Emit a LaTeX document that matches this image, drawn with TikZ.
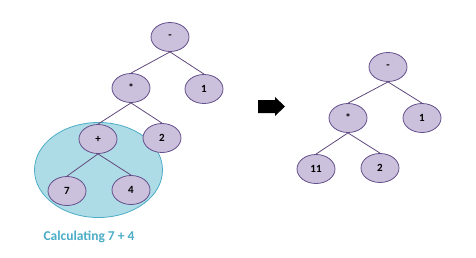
\documentclass[tikz,border=0pt]{standalone}
\usepackage{fontspec}
\setmainfont{Carlito}
\usetikzlibrary{shapes.geometric}
\definecolor{nodefill}{RGB}{204,193,220}
\definecolor{nodeline}{RGB}{100,80,140}
\definecolor{edgecol}{RGB}{96,74,123}
\definecolor{bubfill}{RGB}{174,220,230}
\definecolor{bubline}{RGB}{75,172,198}
\begin{document}
\begin{tikzpicture}[x=1pt,y=-1pt,
  tnode/.style={ellipse,draw=nodeline,fill=nodefill,line width=0.8pt,
    minimum width=38pt,minimum height=29pt,inner sep=0pt,
    font=\bfseries\fontsize{11}{13}\selectfont},
  edge/.style={draw=edgecol,line width=0.8pt}]
\useasboundingbox (0,0) rectangle (476,257);
% highlight bubble
\node[ellipse,draw=bubline,fill=bubfill,line width=0.8pt,minimum width=128pt,minimum height=95pt,inner sep=0pt] (bub) at (98.5,170) {};
% left tree
\node[tnode] (m1) at (170,37) {-};
\node[tnode] (t1) at (131,88) {*};
\node[tnode] (o1) at (204,89) {1};
\node[tnode] (p1) at (98,139) {+};
\node[tnode] (w1) at (162,138) {2};
\node[tnode] (s1) at (67,191) {7};
\node[tnode] (f1) at (131,190) {4};
\draw[edge] (m1.south) -- (t1.north);
\draw[edge] (m1.south) -- (o1.north);
\draw[edge] (t1.south) -- (p1.north);
\draw[edge] (t1.south) -- (w1.north);
\draw[edge] (p1.south) -- (s1.north);
\draw[edge] (p1.south) -- (f1.north);
\node[text=bubline,font=\bfseries\fontsize{13.5}{15}\selectfont] (cap) at (89,237) {Calculating 7 + 4};
% arrow
\fill[black] (258,100) -- (275,100) -- (275,97) -- (285,106.5) -- (275,116) -- (275,113) -- (258,113) -- cycle;
% right tree
\node[tnode] (m2) at (388,67) {-};
\node[tnode] (t2) at (348,118) {*};
\node[tnode] (o2) at (422,118) {1};
\node[tnode] (e2) at (316,169) {11};
\node[tnode] (w2) at (380,168) {2};
\draw[edge] (m2.south) -- (t2.north);
\draw[edge] (m2.south) -- (o2.north);
\draw[edge] (t2.south) -- (e2.north);
\draw[edge] (t2.south) -- (w2.north);
\end{tikzpicture}
\end{document}
